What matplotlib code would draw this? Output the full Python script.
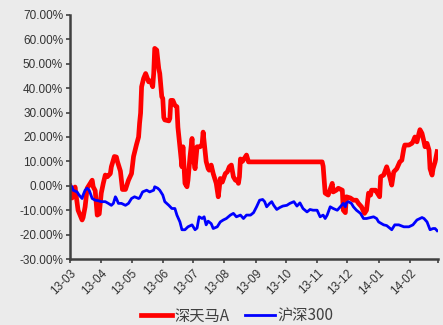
import pandas as pd
import matplotlib
matplotlib.use("Agg")
import matplotlib.pyplot as plt
from matplotlib.ticker import FuncFormatter

plt.rcParams['font.family'] = ['Liberation Sans', 'Noto Sans CJK SC', 'DejaVu Sans']

start = pd.Timestamp("2013-03-01")

# days since 2013-03-01, cumulative return in %
tianma_days = [0, 2, 5, 8, 12, 13, 15, 17, 20, 22, 23, 25, 27, 29, 31, 33, 35, 37, 40, 41,
               44, 46, 47, 50, 52, 55, 58, 61, 63, 66, 68, 69, 70, 71, 73, 75, 78, 80, 82, 83,
               84, 86, 88, 89, 91, 92, 93, 94, 98, 99, 100, 102, 104, 106, 107, 109, 111, 112, 114, 116,
               117, 119, 121, 122, 124, 126, 129, 131, 132, 135, 137, 138, 140, 142, 145, 147, 148, 149, 151, 154,
               156, 158, 160, 162, 164, 166, 167, 168, 169, 171, 174, 175, 177, 250, 251, 253, 256, 260, 261, 264,
               266, 270, 271, 273, 274, 278, 281, 284, 286, 289, 292, 294, 296, 298, 299, 303, 304, 307, 308, 311,
               314, 317, 319, 321, 324, 327, 329, 331, 332, 336, 339, 340, 342, 344, 346, 347, 349, 351, 352, 354,
               356, 357, 359, 360, 362, 364]
tianma_ret = [0, -5, -0.5, -10, -14, -13, -8.6, -1, 1, 2.3, -0.4, -2, -12, -11.5, -3, 1, 4.4, 3.7, 5, 7.8,
              12, 11.8, 10, 6, -1.5, -1.5, 2.3, 5, 12, 17, 20, 25.7, 29.8, 40.6, 44, 46, 42.6, 43, 40.6, 46,
              56.3, 55.6, 48, 46, 36.5, 35.8, 28, 27, 26.6, 27.6, 35, 35, 33, 32.4, 24, 16, 7.8, 16, 1, -0.4,
              2.3, 11.9, 19.4, 12, 7, 16, 16, 17, 22, 10, 7, 6.4, 8.5, 5, 1, -4.5, -1, 3, 1.5, 5,
              5.7, 7.8, 8.5, 3.7, 2.3, 2.3, 1, 3.7, 11, 10, 12, 12.6, 9.8, 9.8, 8, -3, -3.8, 1, -2.5, -1.8,
              -1, -1.8, -10, -11, -4.5, -5, -5.9, -5.9, -7.2, -8.6, -11.3, -10, -3, -3.8, -1.8, -1.8, -2.5, -4.5, 3.7, 4.4,
              7.8, 3.7, 0.3, 5.7, 7, 9.8, 10.5, 15.3, 16.7, 16.7, 17.4, 18, 20, 18, 21.5, 23, 21.5, 18, 16, 17.4,
              14.6, 7, 4.4, 7, 9.8, 14]

hs300_days = [0, 2, 3, 7, 9, 12, 13, 15, 17, 19, 22, 25, 28, 31, 35, 38, 41, 43, 45, 46,
              48, 51, 55, 58, 61, 64, 68, 69, 72, 76, 79, 83, 84, 87, 89, 92, 94, 98, 101, 104,
              106, 109, 111, 114, 117, 121, 124, 126, 128, 131, 133, 135, 137, 140, 142, 146, 149, 152, 155, 159,
              162, 165, 169, 172, 175, 179, 182, 185, 188, 191, 193, 195, 198, 200, 202, 205, 208, 211, 215, 218,
              222, 225, 228, 231, 235, 238, 241, 245, 248, 251, 253, 255, 258, 261, 265, 268, 271, 273, 274, 276,
              279, 281, 284, 288, 291, 294, 298, 301, 304, 306, 311, 314, 319, 322, 326, 331, 336, 340, 344, 349,
              351, 354, 357, 360, 362, 364]
hs300_ret = [0.3, -0.4, -1.8, -2.5, -3.8, -5.2, -3.8, -1.8, -1, -1.8, -5.2, -5.9, -6.1, -6.5, -6.5, -7.2, -8, -7.2, -4.5, -5.2,
             -7.2, -7.2, -8, -7.2, -5.2, -4.5, -5.2, -5, -2.5, -1.8, -2.5, -1.8, -0.4, -1, -1.8, -3.8, -6.5, -8, -9.3, -9.3,
             -12, -14.8, -18, -18, -16.8, -16, -18, -17.3, -12.7, -13.4, -12.7, -16, -14.5, -15.5, -17.5, -16.8, -14.8, -14, -13.4, -12,
             -11.3, -12.7, -12, -13.4, -12, -12, -11, -8.6, -5.9, -5.6, -6.5, -8.6, -7.2, -6.5, -8, -9.7, -8.9, -8.3, -8, -7.2,
             -6.5, -8.3, -7, -9.3, -10.7, -9.7, -10, -10, -12.7, -12, -13.4, -12, -8.6, -9.3, -10, -8.6, -7.2, -8.6, -7, -6.5,
             -7.2, -8.6, -10, -11.3, -13.4, -13.4, -13, -12.7, -13.4, -14.8, -16, -16.3, -18, -16, -16, -16.8, -16.8, -16, -14, -13,
             -13.4, -14.8, -18, -17.5, -17.5, -18.4]

month_ticks = pd.date_range("2013-03-01", "2014-03-01", freq="MS")

bg = "#EBEBEB"
fig = plt.figure(figsize=(4.43, 3.25), dpi=100, facecolor=bg)
ax = fig.add_axes([0.158, 0.203, 0.831, 0.751], facecolor=bg)

t_dates = start + pd.to_timedelta(tianma_days, unit="D")
h_dates = start + pd.to_timedelta(hs300_days, unit="D")

ax.plot(t_dates, tianma_ret, color="#FF0000", lw=3.4, label="深天马A", solid_joinstyle="round")
ax.plot(h_dates, hs300_ret, color="#0000FF", lw=2.0, label="沪深300", solid_joinstyle="round")

ax.set_ylim(-30, 70)
ax.set_yticks(range(-30, 71, 10))
ax.yaxis.set_major_formatter(FuncFormatter(lambda v, p: f"{v:.2f}%"))
ax.set_xlim(month_ticks[0], month_ticks[-1])
ax.set_xticks(month_ticks)
ax.set_xticklabels([d.strftime("%y-%m") for d in month_ticks[:-1]] + [""])

for s in ["top", "right"]:
    ax.spines[s].set_visible(False)
for s in ["left", "bottom"]:
    ax.spines[s].set_color("#404040")
    ax.spines[s].set_linewidth(1.8)

ax.tick_params(axis="both", colors="#404040", labelcolor="#333333", labelsize=8.5,
               length=3, width=1.2, pad=2)
ax.tick_params(axis="x", pad=3)
plt.setp(ax.get_xticklabels(), rotation=45, ha="right", rotation_mode="anchor")

leg = fig.legend(loc="center", bbox_to_anchor=(0.536, 0.028), ncol=2, frameon=False,
                 fontsize=11, handlelength=2.0, handletextpad=0.15, columnspacing=1.0,
                 borderaxespad=0)
for t in leg.get_texts():
    t.set_color("#404040")
    t.set_family(['Noto Sans CJK SC', 'DejaVu Sans'])

fig.savefig("out.png", dpi=100, facecolor=bg)
